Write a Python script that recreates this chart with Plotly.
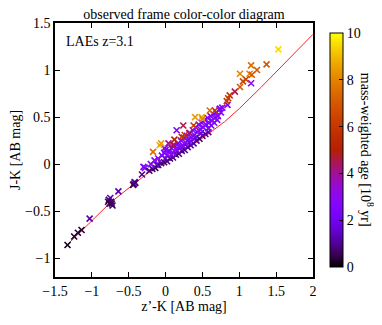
import math
import plotly.graph_objects as go

# scatter points: z'-K colour, J-K colour, mass-weighted age [1e8 yr]
zk = [-1.33, -1.24, -1.19, -1.14, -1.03, -0.77, -0.75, -0.76, -0.73, -0.74, -0.72, -0.78,
      -0.64, -0.43, -0.41, -0.42, -0.44, -0.32, -0.30, -0.28,
      # dark band along the track
      -0.22, -0.18, -0.14, -0.10, -0.06, -0.02, 0.02, 0.06, 0.10, 0.14, 0.18, 0.22, 0.26,
      0.30, 0.34, 0.38, 0.42, 0.46, 0.50, 0.54, 0.58, -0.12, 0.00, 0.08, 0.16, 0.24, 0.32,
      0.40, 0.48,
      # purple cloud
      -0.20, -0.15, -0.10, -0.05, -0.02, 0.00, 0.03, 0.05, 0.08, 0.10, 0.12, 0.14, 0.17,
      0.19, 0.21, 0.23, 0.25, 0.27, 0.29, 0.31, 0.33, 0.35, 0.37, 0.39, 0.41, 0.43, 0.45,
      0.47, 0.49, 0.51, 0.53, 0.55, 0.57, 0.59, 0.61, 0.63, 0.65, 0.67, 0.69, 0.71, 0.73,
      0.75, 0.77, 0.74, 0.84, 1.16, 0.15, -0.01, 0.62, 0.66, 0.70, 0.58,
      # older galaxies
      -0.17, -0.08, -0.06, 0.04, 0.22, 0.26, 0.24, 0.38, 0.40, 0.49, 0.50, 0.60, 0.67,
      0.85, 0.83, 0.87, 0.94, 1.01, 1.05, 1.09, 1.01, 1.14, 1.17, 1.24, 1.16, 1.37, 1.53,
      0.12, 0.32, 0.10]
jk = [-0.86, -0.77, -0.73, -0.70, -0.58, -0.38, -0.36, -0.42, -0.42, -0.40, -0.44, -0.40,
      -0.29, -0.21, -0.20, -0.19, -0.22, -0.11, -0.03, -0.04,
      -0.07, -0.05, -0.04, -0.01, 0.01, 0.02, 0.03, 0.06, 0.07, 0.10, 0.11, 0.14, 0.15,
      0.18, 0.20, 0.22, 0.25, 0.27, 0.30, 0.32, 0.34, -0.01, 0.06, 0.10, 0.14, 0.19, 0.23,
      0.28, 0.33,
      0.00, 0.04, 0.06, 0.09, 0.12, 0.15, 0.10, 0.14, 0.17, 0.12, 0.20, 0.16, 0.22,
      0.18, 0.25, 0.20, 0.28, 0.23, 0.30, 0.26, 0.33, 0.28, 0.36, 0.31, 0.39, 0.34, 0.42,
      0.37, 0.44, 0.39, 0.47, 0.42, 0.49, 0.44, 0.51, 0.46, 0.53, 0.49, 0.55, 0.51, 0.58,
      0.55, 0.60, 0.59, 0.63, 0.86, 0.36, 0.17, 0.41, 0.44, 0.47, 0.38,
      0.13, 0.20, 0.22, 0.22, 0.29, 0.31, 0.41, 0.41, 0.50, 0.50, 0.48, 0.57, 0.57,
      0.70, 0.67, 0.73, 0.77, 0.82, 0.88, 0.90, 0.96, 0.96, 0.95, 1.00, 1.05, 1.06, 1.22,
      0.26, 0.33, 0.20]
age = [0.2, 0.3, 0.4, 0.3, 1.2, 0.8, 1.3, 0.5, 0.7, 0.6, 0.7, 0.5,
       1.2, 0.9, 0.7, 1.0, 0.6, 1.0, 2.6, 2.2,
       0.7, 0.9, 0.5, 0.7, 1.0, 0.6, 0.8, 0.7, 0.9, 1.1, 0.7, 1.0, 0.8,
       1.2, 0.9, 1.3, 1.1, 0.7, 1.0, 0.8, 1.2, 1.5, 1.3, 1.6, 1.4, 1.5, 1.7,
       1.4, 1.6,
       2.5, 2.8, 3.0, 2.4, 2.6, 2.2, 2.8, 2.5, 2.3, 2.7, 2.5, 2.9, 2.4,
       2.6, 2.8, 2.5, 2.2, 2.7, 2.5, 2.3, 2.8, 2.4, 2.6, 2.5, 2.7, 2.3, 2.5,
       2.8, 2.6, 2.4, 2.6, 2.5, 2.7, 2.3, 2.6, 2.4, 2.5, 2.8, 2.6, 2.4, 2.5,
       2.7, 2.6, 2.5, 2.5, 3.0, 2.5, 2.6, 2.4, 2.7, 2.5, 2.3,
       7.5, 8.8, 8.5, 4.0, 5.8, 6.2, 4.5, 6.3, 8.5, 8.8, 8.0, 7.5, 6.0,
       6.0, 6.2, 6.0, 4.5, 7.0, 6.5, 6.5, 8.0, 8.0, 7.0, 7.0, 7.5, 7.0, 9.5,
       5.0, 4.2, 4.5]

# model track (red line)
track_x = [-1.35, -0.75, -0.25, 0.10, 0.56, 0.80, 1.00, 1.30, 2.00]
track_y = [-0.87, -0.41, -0.10, 0.06, 0.31, 0.45, 0.59, 0.82, 1.38]

cbar_ticks = [0, 2, 4, 6, 8, 10]


def pm3d(v):
    # gnuplot default palette (rgbformulae 7,5,15)
    r = math.sqrt(v)
    g = v ** 3
    b = max(0.0, math.sin(2 * math.pi * v))
    return "rgb(%d,%d,%d)" % (round(255 * r), round(255 * g), round(255 * b))


colorscale = [[i / 20, pm3d(i / 20)] for i in range(21)]

font = "Liberation Serif, Times New Roman, serif"
fs = 14

fig = go.Figure()

fig.add_trace(go.Scatter(
    x=track_x, y=track_y, mode="lines",
    line=dict(color="#ff2020", width=1),
    showlegend=False,
))

fig.add_trace(go.Scatter(
    x=zk, y=jk, mode="markers",
    marker=dict(
        symbol="x-thin", size=6,
        color=age, cmin=0, cmax=10, colorscale=colorscale,
        line=dict(width=1.6, color=age, colorscale=colorscale, cmin=0, cmax=10),
        colorbar=dict(
            x=1.027, xanchor="left", y=0.5, yanchor="middle", len=1,
            thickness=13, outlinecolor="black", outlinewidth=1,
            tickvals=cbar_ticks, ticks="inside", ticklen=4, tickcolor="black",
            tickfont=dict(family=font, size=fs, color="black"),
        ),
    ),
    showlegend=False,
))

axis_style = dict(
    showline=True, linecolor="black", linewidth=1.5, mirror="ticks",
    ticks="inside", ticklen=5, tickcolor="black", tickwidth=1,
    showgrid=False, zeroline=False, automargin=False,
    tickfont=dict(family=font, size=fs, color="black"),
)

# page body adds an 8px offset, so the figure is 8px smaller than the window
fig.update_layout(
    width=374, height=317,
    margin=dict(l=47, r=69, t=15, b=48, autoexpand=False),
    plot_bgcolor="white", paper_bgcolor="white",
    title=dict(text="observed frame color-color diagram", x=0.5, xref="paper",
               y=1, yref="container", yanchor="top", pad=dict(t=1),
               font=dict(family=font, size=fs, color="black")),
    xaxis=dict(range=[-1.5, 2], dtick=0.5, title=dict(text="z’-K [AB mag]", standoff=4,
               font=dict(family=font, size=fs, color="black")), **axis_style),
    yaxis=dict(range=[-1.2, 1.5], dtick=0.5, title=dict(text="J-K [AB mag]", standoff=2,
               font=dict(family=font, size=fs, color="black")), **axis_style),
    annotations=[
        dict(text="LAEs z=3.1", x=0.035, y=0.965, xref="paper", yref="paper",
             xanchor="left", yanchor="top", showarrow=False,
             font=dict(family=font, size=fs, color="black")),
        dict(text="mass-weighted age [10<sup>8</sup> yr]", textangle=90,
             x=1.21, y=0.5, xref="paper", yref="paper",
             xanchor="center", yanchor="middle", showarrow=False,
             font=dict(family=font, size=fs, color="black")),
    ],
)

fig.write_html("out.html")
